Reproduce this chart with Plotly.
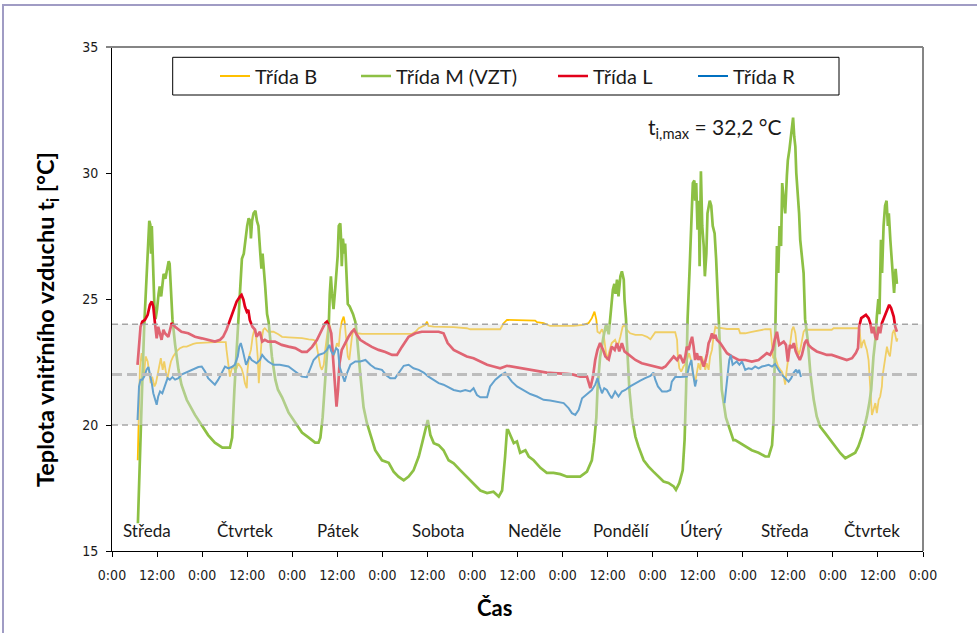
import plotly.graph_objects as go

# ---------------- data (hours since Wednesday 0:00, temperature in °C) ----------------
hours_B = [6.85, 7.1, 7.45, 7.9, 8.2, 8.5, 8.96, 9.5, 9.9, 10.3, 10.7, 11.3, 11.7, 12.1, 12.6, 13.0, 13.5, 13.9,
           14.4, 14.8, 15.3, 15.7, 16.3, 17.2, 18.1, 19.0, 19.9, 20.8, 21.65, 22.5, 23.9, 25.6, 27.4, 29.2, 30.3,
           30.5, 31.0, 31.4, 31.9, 32.3, 32.7, 33.2, 33.6, 34.1, 34.5, 35.0, 35.4, 35.9, 36.1, 36.5, 37.0, 37.45,
           37.9, 38.3, 38.8, 39.1, 39.5, 39.85, 40.3, 40.7, 41.6, 43.0, 44.3, 45.3, 47.0, 48.8, 50.6, 52.4, 53.7,
           54.3, 54.85, 55.5, 55.9, 56.4, 56.8, 57.25, 57.7, 58.1, 58.6, 59.0, 59.5, 59.9, 60.4, 60.8, 61.2, 61.7,
           61.95, 62.3, 62.8, 63.2, 63.55, 63.9, 64.4, 64.8, 65.2, 66.6, 70.1, 73.7, 77.2, 79.9, 80.8, 81.7, 82.5,
           83.4, 83.9, 84.3, 85.7, 87.9, 91.0, 94.5, 95.4, 103.4, 104.3, 105.2, 109.6, 112.7, 113.2, 114.95, 116.7,
           122.9, 125.6, 126.9, 127.8, 128.5, 129.0, 129.3, 129.9, 130.5, 130.9, 131.4, 131.8, 132.3, 132.7, 133.1,
           134.0, 134.7, 135.4, 136.0, 136.5, 137.1, 138.0, 139.4, 141.1, 142.5, 143.4, 144.2, 144.7, 150.0, 150.5,
           150.7, 151.1, 151.6, 152.2, 152.85, 153.4, 153.7, 154.3, 154.6, 154.9, 155.3, 155.8, 156.2, 156.7, 157.1,
           157.6, 158.0, 158.4, 158.9, 159.3, 159.8, 160.2, 160.7, 161.1, 162.0, 163.8, 166.9, 167.3, 168.65, 170.4,
           172.2, 174.0, 175.4, 175.8, 176.1, 176.6, 177.4, 178.0, 178.4, 178.9, 179.3, 179.6, 179.8, 180.2, 180.6,
           181.1, 181.5, 182.0, 182.4, 182.9, 183.3, 183.75, 184.2, 184.6, 186.4, 190.0, 191.7, 192.2, 195.3, 198.7,
           199.1, 199.55, 199.9, 200.3, 200.6, 201.05, 201.5, 201.9, 202.2, 202.4, 202.8, 203.3, 203.7, 204.2, 204.6,
           205.05, 205.2, 205.6, 205.9, 206.4, 206.8, 207.2, 207.5, 207.9, 208.3, 208.6, 209.0, 209.2]
temp_B = [18.6, 20.1, 22.3, 22.85, 22.52, 21.92, 22.72, 22.52, 22.06, 21.66, 21.92, 21.53, 21.66, 21.99, 22.32,
          22.65, 22.19, 22.52, 22.06, 21.86, 22.25, 22.52, 22.72, 22.92, 23.05, 23.11, 23.11, 23.18, 23.22, 23.25,
          23.27, 23.27, 23.29, 23.29, 23.29, 22.98, 22.32, 21.92, 22.25, 22.32, 22.19, 22.25, 22.45, 22.32, 22.25,
          21.99, 21.66, 21.46, 22.19, 22.72, 22.98, 23.5, 23.78, 23.64, 22.72, 21.66, 22.72, 23.38, 23.78, 23.84,
          23.7, 23.7, 23.6, 23.5, 23.48, 23.47, 23.45, 23.4, 23.38, 23.31, 22.85, 22.32, 22.19, 22.39, 22.98, 23.64,
          24.04, 23.9, 23.25, 22.72, 22.98, 23.25, 23.11, 23.78, 24.1, 24.3, 24.1, 23.38, 22.72, 22.58, 23.11, 23.5,
          23.84, 23.7, 23.64, 23.62, 23.62, 23.62, 23.62, 23.62, 23.7, 23.84, 23.9, 23.97, 24.1, 23.93, 23.9, 23.9,
          23.88, 23.84, 23.8, 23.8, 24.04, 24.17, 24.17, 24.14, 24.08, 24.04, 23.93, 23.93, 23.97, 24.04, 24.24,
          24.5, 24.17, 23.7, 23.64, 23.8, 23.64, 23.1, 22.58, 22.85, 23.11, 23.25, 23.38, 23.11, 23.5, 23.9, 23.97,
          23.78, 23.64, 23.58, 23.58, 23.5, 23.4, 23.58, 23.68, 23.68, 23.38, 22.72, 22.25, 22.12, 22.32, 22.45,
          22.78, 22.85, 22.52, 22.19, 21.92, 21.66, 22.06, 22.45, 22.19, 22.72, 22.45, 22.19, 22.45, 22.19, 22.72,
          22.98, 23.5, 23.9, 23.85, 23.85, 23.81, 23.81, 23.64, 23.64, 23.7, 23.75, 23.8, 23.8, 22.9, 22.65, 22.72,
          22.32, 22.19, 22.12, 21.92, 21.6, 22.06, 22.32, 22.72, 23.38, 23.78, 23.9, 23.64, 23.11, 22.78, 22.98,
          23.38, 23.7, 23.78, 23.78, 23.78, 23.78, 23.84, 23.84, 23.84, 23.78, 23.05, 23.25, 23.38, 23.18, 22.98,
          22.58, 21.66, 21.0, 20.4, 20.6, 20.87, 20.47, 21.0, 21.13, 21.53, 21.92, 22.32, 22.72, 23.11, 22.85, 22.72,
          23.11, 23.64, 23.78, 23.5, 23.31, 23.44]

hours_M = [6.9, 7.4, 8.0, 8.6, 9.3, 9.6, 9.93, 10.2, 10.4, 10.6, 10.9, 11.3, 11.6, 12.0, 12.4, 12.7, 13.1, 13.75,
           14.2, 14.6, 15.1, 15.35, 15.7, 16.1, 16.8, 17.7, 18.5, 19.9, 22.1, 23.4, 25.6, 27.4, 29.4, 31.4, 32.0,
           32.6, 33.2, 33.7, 34.2, 34.6, 35.1, 35.5, 36.0, 36.4, 36.8, 37.0, 37.3, 37.7, 38.2, 38.6, 39.0, 39.5,
           39.8, 40.1, 40.4, 40.8, 41.3, 41.7, 42.6, 43.5, 44.2, 45.3, 47.0, 48.8, 50.6, 52.4, 54.1, 55.0, 55.5,
           56.1, 56.6, 57.25, 57.7, 58.0, 58.3, 58.6, 59.0, 59.5, 60.1, 60.4, 60.8, 61.0, 61.2, 61.5, 61.9, 62.1,
           62.4, 62.8, 63.3, 63.6, 64.2, 64.8, 65.2, 66.1, 67.0, 67.9, 68.8, 70.1, 71.9, 73.7, 75.0, 76.3, 77.7,
           79.0, 80.3, 81.7, 82.6, 83.4, 84.1, 84.8, 85.7, 87.0, 88.3, 89.65, 91.0, 92.8, 94.5, 96.3, 98.1, 99.9,
           101.6, 103.0, 103.9, 104.7, 105.2, 105.5, 106.25, 107.0, 107.85, 108.7, 110.1, 111.0, 112.3, 114.1,
           115.8, 117.6, 119.4, 121.2, 122.9, 124.7, 126.5, 127.8, 128.4, 129.0, 129.3, 130.0, 130.9, 131.6, 132.3,
           132.8, 133.4, 133.8, 134.1, 134.5, 134.9, 135.4, 135.8, 136.3, 136.5, 136.9, 137.1, 137.8, 138.5, 139.4,
           140.2, 141.6, 142.9, 144.2, 145.6, 146.9, 148.2, 149.6, 150.2, 151.1, 152.0, 152.5, 152.9, 153.1, 153.3,
           153.8, 154.2, 154.45, 154.7, 155.1, 155.3, 155.6, 155.95, 156.3, 156.5, 156.85, 157.2, 157.6, 157.9,
           158.3, 158.6, 159.2, 159.6, 160.0, 160.5, 160.9, 161.3, 161.55, 162.0, 162.4, 163.5, 164.7, 165.5, 166.0,
           167.3, 168.65, 170.4, 172.2, 174.0, 174.9, 175.8, 176.2, 176.65, 177.1, 177.45, 177.8, 178.2, 178.5,
           178.9, 179.3, 179.75, 180.0, 180.4, 180.8, 181.2, 181.4, 181.7, 182.0, 182.25, 182.6, 183.0, 183.3,
           183.75, 184.2, 184.6, 185.3, 186.0, 186.9, 187.7, 188.6, 190.0, 191.3, 192.6, 194.0, 195.3, 196.6, 197.95,
           198.8, 199.7, 200.4, 201.05, 201.7, 202.2, 202.8, 203.3, 203.7, 204.1, 204.4, 204.8, 205.1, 205.5, 205.9,
           206.3, 206.65, 206.9, 207.3, 207.6, 208.0, 208.3, 208.7, 209.05]
temp_M = [16.1, 18.75, 21.4, 24.0, 26.0, 26.8, 28.1, 27.95, 26.8, 27.9, 26.0, 24.7, 24.2, 24.6, 25.2, 25.5, 25.1,
          26.0, 25.8, 26.2, 26.5, 26.4, 25.5, 24.2, 23.2, 22.2, 21.6, 21.0, 20.4, 20.1, 19.6, 19.3, 19.1, 19.1, 19.5,
          21.4, 23.0, 24.2, 25.5, 26.6, 26.8, 27.4, 27.9, 28.2, 28.1, 27.4, 28.1, 28.4, 28.5, 28.1, 27.9, 26.8, 26.2,
          26.8, 26.3, 25.5, 24.4, 24.1, 22.7, 21.8, 21.4, 21.1, 20.5, 20.1, 19.7, 19.5, 19.3, 19.3, 19.5, 20.3, 21.4,
          22.7, 23.8, 25.2, 25.9, 25.2, 24.6, 25.5, 26.7, 27.9, 28.0, 27.4, 26.3, 27.4, 26.8, 27.2, 26.0, 24.8, 24.7,
          24.6, 24.4, 24.1, 23.6, 22.06, 20.7, 20.07, 19.67, 19.0, 18.6, 18.5, 18.15, 17.95, 17.8, 17.95, 18.2, 18.75,
          19.28, 19.8, 20.2, 19.6, 19.28, 19.2, 19.0, 18.6, 18.48, 18.2, 17.95, 17.7, 17.4, 17.3, 17.35, 17.16, 17.4,
          18.75, 19.8, 19.8, 19.5, 19.28, 19.35, 18.9, 19.0, 18.75, 18.6, 18.3, 18.1, 18.1, 18.05, 17.95, 17.95,
          17.95, 18.15, 18.6, 19.3, 20.3, 21.4, 22.7, 23.5, 24.0, 23.6, 24.4, 25.37, 25.6, 25.2, 25.77, 25.1, 25.9,
          26.1, 25.77, 24.97, 24.2, 23.38, 21.4, 20.3, 19.54, 19.15, 18.6, 18.35, 18.15, 17.95, 17.76, 17.7, 17.56,
          17.43, 17.7, 18.2, 19.4, 21.4, 23.4, 24.2, 26.03, 27.9, 29.3, 29.6, 29.7, 28.9, 29.6, 27.75, 28.9, 26.3,
          30.07, 27.9, 27.1, 25.9, 26.8, 28.4, 28.9, 28.7, 27.9, 27.6, 26.6, 25.2, 24.2, 22.7, 21.4, 20.3, 19.7, 19.4,
          19.4, 19.28, 19.15, 19.0, 18.9, 18.75, 18.75, 19.2, 20.2, 24.2, 27.1, 26.03, 27.9, 27.1, 29.6, 28.95, 28.4,
          29.9, 30.5, 30.9, 31.45, 31.85, 32.2, 31.45, 31.05, 30.0, 29.3, 28.4, 27.35, 26.8, 26.03, 24.2, 23.38, 22.06,
          21.0, 20.34, 19.94, 19.67, 19.4, 19.15, 18.88, 18.68, 18.8, 18.9, 19.15, 19.54, 19.94, 20.34, 20.87, 21.4,
          22.7, 23.38, 24.3, 25.0, 24.4, 27.35, 26.03, 27.9, 28.7, 28.9, 27.9, 28.4, 27.35, 26.6, 25.77, 25.24, 26.2,
          25.6]

hours_L = [6.8, 7.2, 7.6, 8.07, 8.78, 9.5, 10.1, 10.6, 11.0, 11.4, 11.9, 12.3, 12.8, 13.2, 13.7, 14.1, 15.0, 15.9,
           16.8, 17.7, 18.5, 20.3, 22.1, 23.9, 25.6, 27.4, 28.8, 29.6, 30.5, 31.4, 32.3, 33.2, 34.1, 34.5, 35.0,
           35.4, 35.9, 36.3, 36.7, 37.4, 38.1, 38.5, 39.4, 40.0, 40.7, 41.6, 43.4, 45.2, 47.0, 48.8, 50.6, 51.9,
           53.3, 54.6, 55.9, 56.8, 57.25, 57.7, 58.4, 59.0, 59.5, 59.8, 60.2, 60.6, 61.2, 62.1, 63.0, 63.9, 64.5,
           65.2, 66.1, 67.5, 69.2, 71.0, 72.8, 74.6, 75.9, 77.2, 79.0, 80.8, 82.5, 84.3, 87.0, 88.3, 89.4, 91.0,
           92.8, 94.5, 96.3, 98.1, 99.9, 101.6, 103.4, 105.2, 107.0, 108.7, 110.5, 112.3, 114.1, 115.8, 117.6,
           119.4, 121.2, 122.9, 124.7, 126.5, 127.4, 128.1, 128.7, 129.3, 130.0, 130.8, 131.4, 132.3, 133.1, 133.9,
           134.5, 135.1, 135.8, 136.5, 137.1, 138.0, 139.4, 141.1, 142.9, 144.7, 146.5, 147.4, 148.7, 149.6, 150.5,
           151.3, 152.2, 152.7, 153.1, 153.6, 154.0, 154.5, 154.9, 155.3, 155.8, 156.2, 156.7, 157.1, 157.6, 158.0,
           158.5, 158.9, 159.3, 159.8, 160.2, 160.7, 161.1, 162.0, 162.9, 163.8, 165.1, 166.9, 168.65, 170.4, 172.2,
           173.5, 174.4, 175.3, 176.0, 176.5, 177.1, 177.7, 178.2, 178.9, 179.5, 180.0, 180.55, 181.1, 181.6, 182.1,
           182.7, 183.2, 183.75, 184.5, 185.0, 185.5, 186.4, 187.7, 189.1, 190.4, 191.7, 193.1, 194.4, 195.7, 197.1,
           198.1, 198.7, 199.0, 199.55, 200.2, 200.8, 201.5, 201.95, 202.4, 202.8, 203.3, 203.7, 204.2, 204.6,
           205.05, 205.8, 206.4, 207.0, 207.5, 208.2, 208.6, 209.05]
temp_L = [22.39, 23.38, 23.9, 24.1, 24.17, 24.37, 24.77, 24.9, 24.7, 24.1, 23.44, 23.9, 23.64, 23.38, 23.78, 23.64,
          23.5, 24.04, 23.9, 23.78, 23.7, 23.64, 23.5, 23.44, 23.38, 23.31, 23.38, 23.5, 23.78, 24.17, 24.57, 24.9,
          25.1, 25.16, 24.97, 24.7, 24.5, 24.57, 24.17, 23.9, 23.78, 23.5, 23.7, 23.31, 23.38, 23.31, 23.31, 23.18,
          23.11, 23.05, 22.9, 22.9, 23.1, 23.38, 23.78, 24.04, 24.1, 23.97, 23.64, 22.45, 21.4, 20.73, 21.4, 22.45,
          22.98, 23.25, 23.5, 23.7, 23.78, 23.58, 23.38, 23.25, 23.1, 22.98, 22.9, 22.78, 22.78, 23.1, 23.5, 23.64,
          23.7, 23.7, 23.7, 23.64, 23.25, 22.98, 22.85, 22.72, 22.65, 22.52, 22.39, 22.32, 22.25, 22.35, 22.3, 22.25,
          22.2, 22.17, 22.12, 22.08, 22.06, 22.06, 22.03, 22.0, 21.92, 21.92, 21.46, 21.92, 22.58, 22.98, 23.25,
          22.98, 22.72, 22.6, 23.11, 22.98, 23.25, 22.92, 23.25, 22.92, 22.85, 22.72, 22.58, 22.45, 22.39, 22.32,
          22.25, 22.32, 22.58, 22.72, 22.58, 22.78, 22.45, 22.72, 23.11, 22.98, 23.25, 23.5, 23.11, 22.58, 22.85,
          22.58, 22.72, 22.52, 22.32, 22.52, 22.85, 23.25, 23.38, 23.64, 23.44, 23.58, 23.38, 23.25, 23.05, 22.85,
          22.72, 22.58, 22.58, 22.52, 22.58, 22.72, 22.85, 22.78, 23.0, 23.38, 23.7, 23.18, 23.25, 23.31, 23.18,
          22.52, 23.18, 23.05, 23.25, 22.92, 22.72, 22.58, 22.78, 23.25, 23.38, 23.18, 23.05, 22.92, 22.85, 22.78,
          22.78, 22.72, 22.65, 22.58, 22.65, 22.85, 23.05, 23.9, 24.24, 24.3, 24.37, 24.24, 24.04, 23.64, 23.9, 23.5,
          23.38, 23.9, 23.64, 24.04, 24.3, 24.57, 24.77, 24.64, 24.3, 23.9, 23.7]

hours_R = [6.8, 7.2, 7.6, 8.07, 8.6, 9.2, 9.7, 10.1, 10.6, 11.0, 11.4, 11.9, 12.3, 12.8, 13.4, 14.1, 14.8, 15.4,
           16.1, 16.8, 17.7, 18.5, 19.4, 20.3, 21.2, 22.1, 23.0, 23.9, 24.8, 25.6, 26.5, 27.4, 28.3, 29.2, 30.1,
           31.0, 31.9, 32.7, 33.5, 33.9, 34.3, 34.8, 35.2, 35.7, 36.1, 36.6, 37.2, 37.8, 38.5, 39.4, 40.0, 40.7,
           41.6, 43.0, 44.7, 47.0, 48.8, 50.6, 51.9, 52.8, 53.7, 55.0, 56.4, 57.25, 57.9, 58.4, 59.0, 59.7, 60.2,
           60.6, 61.2, 61.95, 62.6, 63.5, 64.8, 66.1, 67.5, 68.8, 70.1, 71.9, 73.2, 74.1, 75.4, 76.8, 77.7, 79.0,
           80.3, 81.7, 83.0, 84.3, 85.7, 87.0, 88.3, 89.65, 91.0, 92.8, 94.1, 95.4, 96.3, 97.2, 98.1, 99.9, 100.7,
           102.1, 103.4, 104.7, 105.6, 106.5, 107.85, 109.6, 111.4, 113.2, 114.95, 116.7, 118.5, 120.3, 121.6,
           122.5, 123.4, 124.3, 125.2, 126.5, 127.8, 128.7, 129.3, 129.9, 130.5, 131.1, 131.8, 132.5, 133.1, 134.0,
           134.9, 135.8, 136.7, 138.0, 139.4, 140.7, 142.0, 143.4, 144.2, 144.7, 145.4, 146.5, 147.8, 148.7, 149.1,
           150.0, 151.3, 152.5, 153.1, 153.7, 154.3, 154.6, 155.0, 155.3, 155.7, None, 163.15, 163.8, 164.4, 164.8,
           165.3, 165.8, 166.4, 167.1, 167.8, 168.65, 169.5, 170.4, 171.3, 172.2, 173.1, 174.0, 174.9, 175.8, 176.6,
           177.5, 178.4, 179.3, 180.2, 180.9, 181.5, 182.2, 182.6, 183.0, 183.5]
temp_R = [20.2, 21.53, 21.8, 21.8, 21.92, 22.19, 22.3, 22.06, 21.66, 21.26, 21.0, 20.8, 21.13, 21.33, 21.26, 21.53,
          21.86, 21.8, 21.9, 21.8, 21.86, 22.0, 22.06, 22.12, 22.19, 22.25, 22.3, 22.32, 22.12, 21.86, 21.72, 21.6,
          21.8, 22.06, 22.32, 22.25, 22.3, 22.39, 22.72, 23.11, 23.25, 22.98, 22.72, 22.39, 22.52, 22.72, 22.58,
          22.52, 22.45, 22.58, 22.78, 22.65, 22.52, 22.39, 22.39, 22.32, 22.12, 21.92, 21.9, 22.25, 22.58, 22.78,
          22.85, 22.98, 23.18, 22.92, 22.78, 23.05, 22.98, 22.32, 22.06, 21.72, 22.06, 22.39, 22.52, 22.52, 22.58,
          22.39, 22.25, 22.19, 21.95, 21.86, 21.86, 22.19, 22.35, 22.39, 22.25, 22.19, 22.08, 21.92, 21.8, 21.66,
          21.6, 21.5, 21.39, 21.33, 21.39, 21.33, 21.46, 21.19, 21.1, 21.1, 21.53, 21.8, 21.96, 22.08, 21.92, 21.72,
          21.53, 21.39, 21.23, 21.13, 21.0, 20.97, 20.93, 20.87, 20.67, 20.47, 20.4, 20.6, 21.06, 21.23, 21.39, 21.6,
          21.86, 21.53, 21.26, 21.46, 21.39, 21.2, 21.06, 21.33, 21.13, 21.33, 21.39, 21.53, 21.66, 21.76, 21.86,
          21.95, 22.08, 21.8, 21.53, 21.33, 21.33, 21.39, 21.72, 21.9, 21.9, 21.9, 21.92, 22.32, 22.58, 22.19, 21.66,
          21.53, 21.8, None, 20.87, 21.8, 22.58, 22.78, 22.39, 22.45, 22.52, 22.39, 22.52, 22.19, 22.25, 22.22, 22.32,
          22.25, 22.32, 22.35, 22.39, 22.32, 22.42, 22.19, 21.99, 21.86, 21.72, 21.86, 22.06, 22.2, 22.06, 22.19,
          21.9]

series_names = ["Třída B", "Třída M (VZT)", "Třída L", "Třída R"]
series_colors = ["#FFC000", "#8DC044", "#E2001A", "#0070C0"]
series_widths = [1.8, 2.7, 2.7, 2.0]
series_hours = [hours_B, hours_M, hours_L, hours_R]
series_temps = [temp_B, temp_M, temp_L, temp_R]

tick_hours = list(range(0, 217, 12))
tick_labels = ["0:00" if h % 24 == 0 else "12:00" for h in tick_hours]
y_ticks = [15, 20, 25, 30, 35]

day_names = ["Středa", "Čtvrtek", "Pátek", "Sobota", "Neděle", "Pondělí", "Úterý", "Středa", "Čtvrtek"]
day_label_hours = [9.3, 35.5, 60.1, 86.8, 112.4, 135.5, 157.0, 179.2, 202.4]
day_label_temp = 15.8

band_low, band_mid, band_high = 20, 22, 24
max_text = "t<sub>i,max</sub> = 32,2 °C"

# ---------------- layout geometry ----------------
W, H = 977, 633
ML, MR, MT, MB = 112, 54, 47, 82
PW, PH = W - ML - MR, H - MT - MB


def px_x(px):
    return (px - ML) / PW


def px_y(py):
    return (H - MB - py) / PH


FONT = "Lato, 'Open Sans', sans-serif"
NARROW = "'Liberation Sans Narrow', 'DejaVu Sans Condensed', 'Arial Narrow', sans-serif"

fig = go.Figure()
legend_ids = ["legend", "legend2", "legend3", "legend4"]
for i in range(4):
    fig.add_trace(go.Scatter(
        x=series_hours[i], y=series_temps[i], mode="lines", name=series_names[i],
        line=dict(color=series_colors[i], width=series_widths[i]),
        connectgaps=False, legend=legend_ids[i], hoverinfo="skip"))

legend_line_px = [224, 365, 562, 702]
leg_common = dict(orientation="h", bgcolor="rgba(0,0,0,0)", borderwidth=0,
                  font=dict(family=FONT, size=20, color="#1a1a1a"), itemwidth=30,
                  yanchor="middle", xanchor="left")
legends = {}
for i, lid in enumerate(legend_ids):
    legends[lid] = dict(leg_common, x=px_x(legend_line_px[i] - 9), y=px_y(76))

shapes = [
    # outer frame
    dict(type="rect", xref="paper", yref="paper", x0=px_x(3), x1=px_x(990), y0=px_y(5), y1=px_y(645),
         line=dict(color="#A09CC4", width=2), fillcolor="rgba(0,0,0,0)", layer="below"),
    # legend box
    dict(type="rect", xref="paper", yref="paper", x0=px_x(172.7), x1=px_x(839), y0=px_y(95), y1=px_y(57.3),
         line=dict(color="#000000", width=1), fillcolor="white", layer="below"),
    # comfort band (semi-transparent, over the lines)
    dict(type="rect", xref="paper", yref="y", x0=0, x1=1, y0=band_low, y1=band_high,
         fillcolor="rgba(222,224,224,0.45)", line=dict(width=0), layer="above"),
    dict(type="line", xref="paper", yref="y", x0=0, x1=1, y0=band_low, y1=band_low,
         line=dict(color="#A6A6A6", width=1.5, dash="6px,4px"), layer="above"),
    dict(type="line", xref="paper", yref="y", x0=0, x1=1, y0=band_high, y1=band_high,
         line=dict(color="#A6A6A6", width=1.5, dash="6px,4px"), layer="above"),
    dict(type="line", xref="paper", yref="y", x0=0, x1=1, y0=band_mid, y1=band_mid,
         line=dict(color="#BDBDBD", width=3, dash="10px,5px"), layer="above"),
    # top and right plot frame (grey)
    dict(type="line", xref="paper", yref="paper", x0=px_x(106), x1=1, y0=1, y1=1,
         line=dict(color="#858585", width=2), layer="above"),
    dict(type="line", xref="paper", yref="paper", x0=1, x1=1, y0=0, y1=1,
         line=dict(color="#858585", width=2), layer="above"),
]

annotations = []
for name, hx in zip(day_names, day_label_hours):
    annotations.append(dict(x=hx, y=day_label_temp, xref="x", yref="y", text=name, showarrow=False,
                            font=dict(family=FONT, size=17, color="#1a1a1a"), xanchor="center", yanchor="middle"))
annotations.append(dict(x=px_x(646), y=px_y(128), xref="paper", yref="paper", text=max_text, showarrow=False,
                        font=dict(family=FONT, size=21, color="#1a1a1a"), xanchor="left", yanchor="middle"))
annotations.append(dict(x=px_x(47), y=px_y(320), xref="paper", yref="paper",
                        text="<b>Teplota vnitřního vzduchu t<sub>i</sub> [°C]</b>", showarrow=False, textangle=-90,
                        font=dict(family=FONT, size=23.5, color="#000000"), xanchor="center", yanchor="middle"))
annotations.append(dict(x=px_x(494), y=px_y(607), xref="paper", yref="paper", text="<b>Čas</b>", showarrow=False,
                        font=dict(family=FONT, size=22, color="#000000"), xanchor="center", yanchor="middle"))

fig.update_layout(
    width=W, height=H, margin=dict(l=ML, r=MR, t=MT, b=MB, pad=0),
    paper_bgcolor="white", plot_bgcolor="white", showlegend=True,
    xaxis=dict(range=[0, 216], tickmode="array", tickvals=tick_hours, ticktext=tick_labels,
               ticks="outside", ticklen=5, tickcolor="black", tickwidth=1, showline=True, linecolor="black",
               linewidth=1, showgrid=False, zeroline=False, ticklabelstandoff=6,
               tickfont=dict(family=NARROW, size=14, color="#1a1a1a")),
    yaxis=dict(range=[15, 35], tickmode="array", tickvals=y_ticks, ticks="outside", ticklen=5, tickcolor="black",
               tickwidth=1, showline=True, linecolor="black", linewidth=1, showgrid=False, zeroline=False,
               ticklabelstandoff=5, tickfont=dict(family=NARROW, size=14, color="#1a1a1a")),
    shapes=shapes, annotations=annotations, **legends)

fig.write_html("out.html", config={"displayModeBar": False, "staticPlot": True},
               post_script="document.body.style.margin='0px';")
